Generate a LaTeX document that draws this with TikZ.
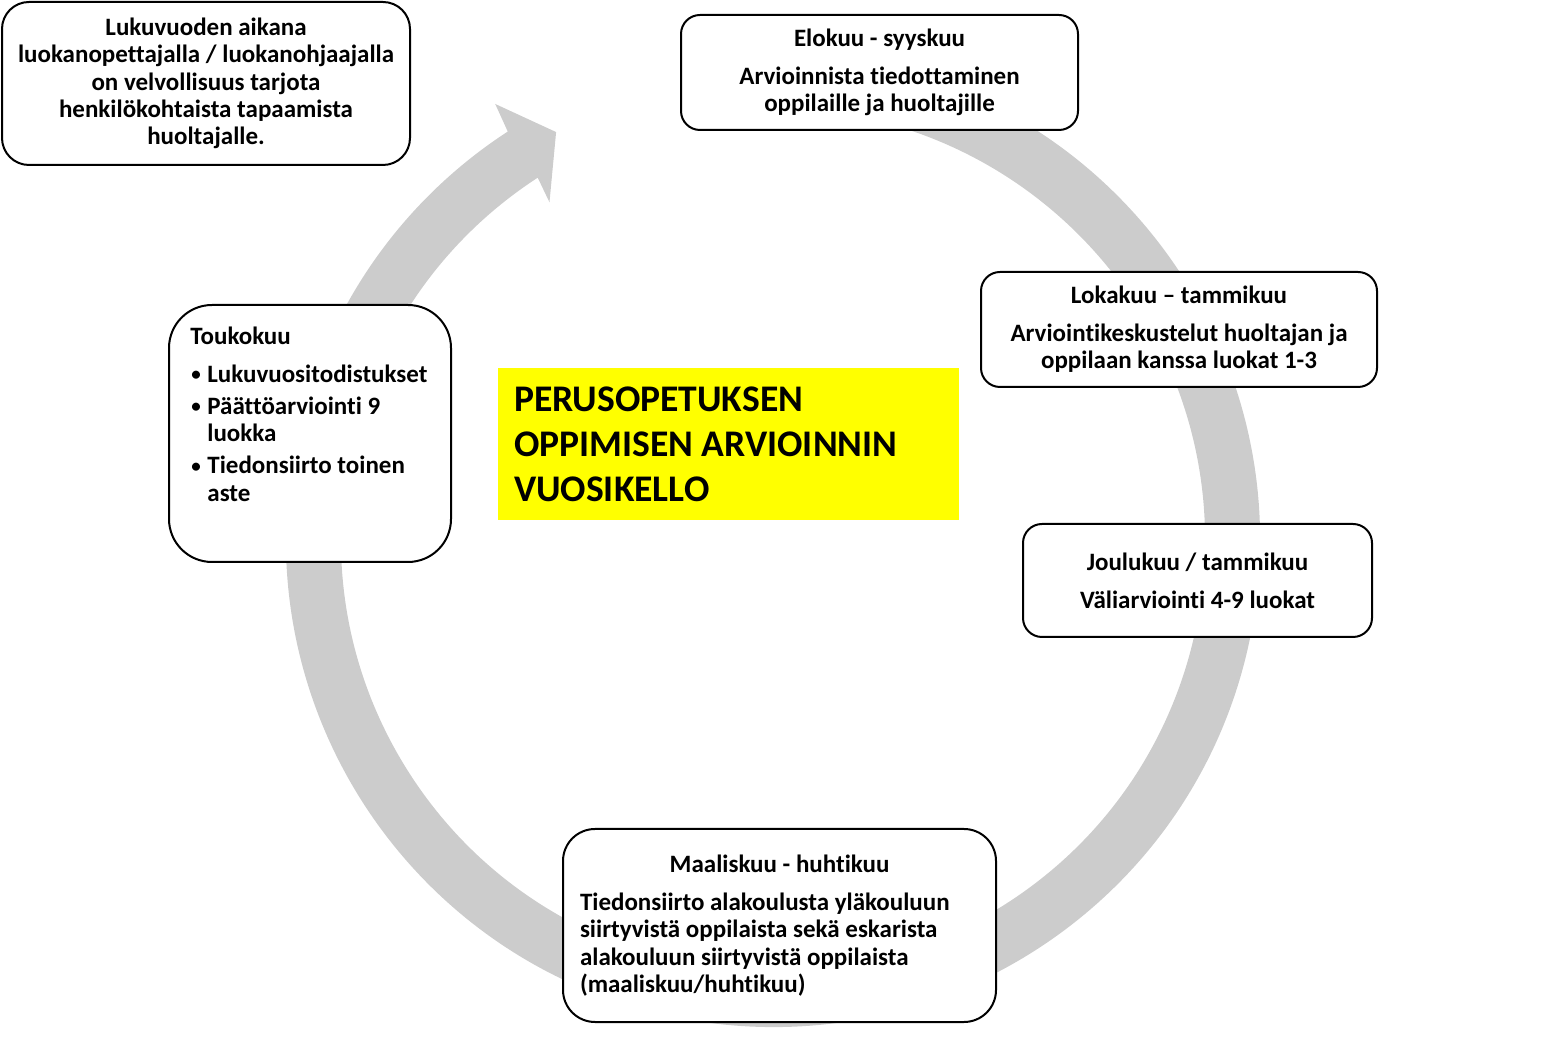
\documentclass[tikz,border=0pt]{standalone}
\usepackage{fontspec}
\setmainfont{Carlito}[Ligatures=NoCommon]
\usepackage{tikz}
\usetikzlibrary{positioning, calc}
\definecolor{RingGray}{RGB}{204,204,204}
\definecolor{TitleYellow}{RGB}{255,255,0}
\newcommand{\listdot}{\makebox[8.5pt][l]{\hspace{0.5pt}\raisebox{0.7pt}{\fontsize{9.5}{9.5}\selectfont\textbullet}}}

\begin{document}
\begin{tikzpicture}[x=0.5pt, y=0.5pt,
      card/.style={rectangle, draw=black, line width=1pt, fill=white,
                   font=\bfseries\fontsize{12.5}{13.7}\selectfont,
                   align=center, inner sep=0pt},
      headline/.style={rectangle, fill=TitleYellow, minimum width=230.5pt,
                   minimum height=76pt, text width=214.5pt, align=flush left,
                   inner sep=0pt, font=\bfseries\fontsize{18.8}{22.5}\selectfont}
    ]
    \useasboundingbox (0,0) rectangle (1562,1038);
    \coordinate (hub) at (773,498);

    % Year ring with its head
    \fill[RingGray] ($(hub)+(80:243.5pt)$)
          arc[start angle=80, end angle=-237, radius=243.5pt]
          -- ($(hub)+(122.5:258.5pt)$) -- ($(hub)+(118:231pt)$)
          -- ($(hub)+(123.5:202.5pt)$) -- ($(hub)+(123:216pt)$)
          arc[start angle=-237, end angle=80, radius=216pt] -- cycle;

    % Title
    \node[headline] (title) at (728.5,594)
          {PERUSOPETUKSEN\\OPPIMISEN ARVIOINNIN\\VUOSIKELLO};

    % Note
    \node[card, minimum width=204pt, minimum height=81.5pt,
          rounded corners=13.5pt] (duty) at (206,954.5)
          {Lukuvuoden aikana\\luokanopettajalla / luokanohjaajalla\\on velvollisuus tarjota\\henkilökohtaista tapaamista\\huoltajalle.};

    % Months
    \node[card, minimum width=198.5pt, minimum height=57.5pt,
          rounded corners=9.5pt] (elokuu) at (879.5,965.5)
          {Elokuu - syyskuu\\[5.3pt]Arvioinnista tiedottaminen\\oppilaille ja huoltajille};
    \node[card, minimum width=198pt, minimum height=57.5pt,
          rounded corners=9.5pt] (lokakuu) at (1179,708.5)
          {Lokakuu -- tammikuu\\[5.3pt]Arviointikeskustelut huoltajan ja\\oppilaan kanssa luokat 1-3};
    \node[card, minimum width=174.5pt, minimum height=56.5pt,
          rounded corners=9.5pt] (joulukuu) at (1197.5,457.5)
          {Joulukuu / tammikuu\\[5.3pt]Väliarviointi 4-9 luokat};
    \node[card, minimum width=216.5pt, minimum height=96.5pt,
          rounded corners=16pt, text width=199.5pt, align=flush left] (maaliskuu) at (779.5,112.5)
          {\makebox[\hsize]{Maaliskuu - huhtikuu}\\[5.3pt]Tiedonsiirto alakoulusta yläkouluun\\siirtyvistä oppilaista sekä eskarista\\alakouluun siirtyvistä oppilaista\\(maaliskuu/huhtikuu)};
    \node[card, minimum width=141pt, minimum height=128.5pt,
          rounded corners=21.5pt] (toukokuu) at (310,604.5) {};
    \node[below right=10.4pt and 11pt of toukokuu.north west, inner sep=0pt,
          font=\bfseries\fontsize{12.5}{13.7}\selectfont] (toukolist)
          {\begin{tabular}{@{}l@{}l@{}}
           \multicolumn{2}{@{}l@{}}{Toukokuu}\\[5.3pt]
           \listdot & Lukuvuositodistukset\\[2.3pt]
           \listdot & Päättöarviointi 9\\
                    & luokka\\[2.3pt]
           \listdot & Tiedonsiirto toinen\\
                    & aste
           \end{tabular}};
  \end{tikzpicture}
\end{document}
